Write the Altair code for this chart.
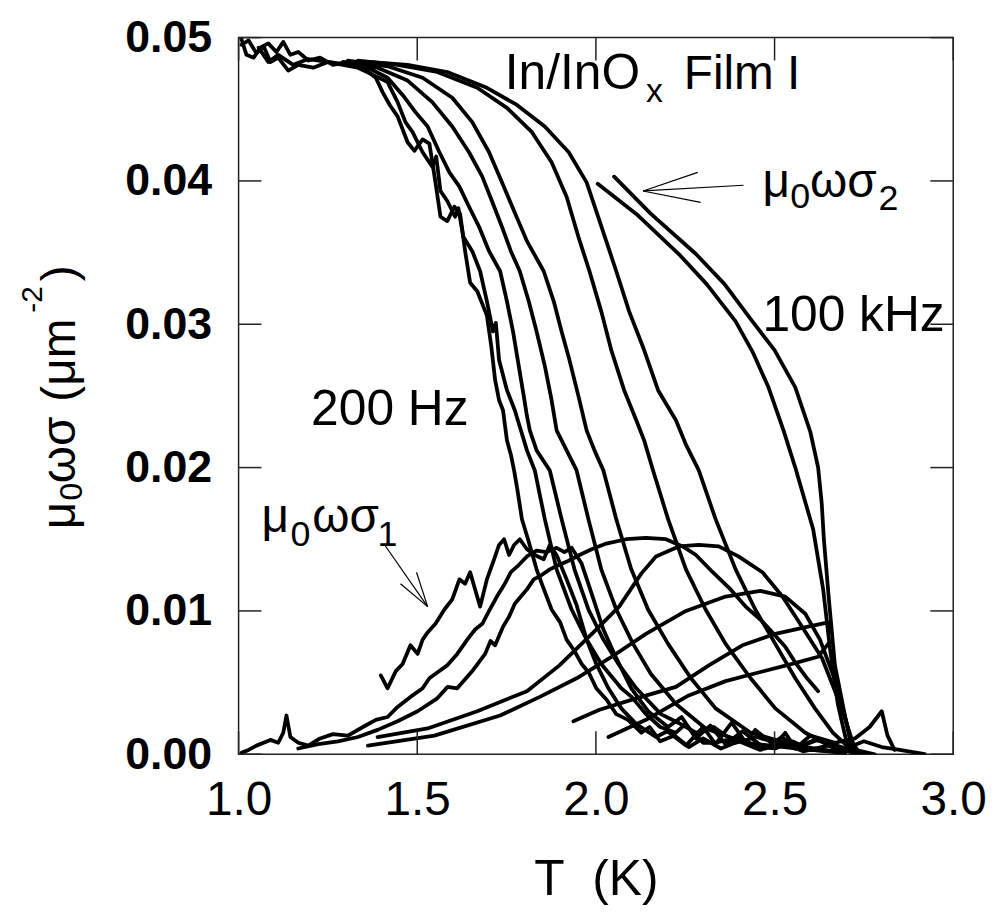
import altair as alt
import pandas as pd

# ---------------- data: (T [K], mu0*omega*sigma [um^-2]) ----------------
# sigma2 (reactive part), from 200 Hz (left, noisy) to 100 kHz (right)
s2_200Hz = [(1.008,0.0499),(1.022,0.0488),(1.042,0.0486),(1.061,0.0493),(1.083,0.0496),(1.106,0.0490),
            (1.125,0.0497),(1.145,0.0488),(1.167,0.0490),(1.195,0.0484),(1.228,0.0486),(1.264,0.0481),
            (1.306,0.0483),(1.348,0.0479),(1.384,0.0472),(1.403,0.0462),(1.423,0.0453),(1.445,0.0445),
            (1.473,0.0427),(1.492,0.0421),(1.515,0.0429),(1.534,0.0426),(1.551,0.0399),(1.565,0.0375),
            (1.584,0.0372),(1.604,0.0382),(1.620,0.0377),(1.634,0.0351),(1.648,0.0329),(1.668,0.0323),
            (1.684,0.0313),(1.695,0.0306),(1.707,0.0285),(1.718,0.0261),(1.729,0.0247),(1.740,0.0240),
            (1.751,0.0219),(1.762,0.0209),(1.771,0.0198),(1.780,0.0185),(1.793,0.0164),(1.810,0.0150),
            (1.834,0.0129),(1.850,0.0118),(1.876,0.0101),(1.900,0.0092),(1.918,0.0080),(1.940,0.0072),
            (1.960,0.0063),(1.980,0.0057),(2.001,0.0046),(2.030,0.0038),(2.057,0.0028),(2.090,0.0024),
            (2.127,0.0015),(2.150,0.0019),(2.180,0.0009),(2.220,0.0013),(2.260,0.0005),(2.300,0.0011),
            (2.350,0.0004),(2.400,0.0009),(2.460,0.0003),(2.520,0.0008),(2.580,0.0002),(2.650,0.0006),
            (2.720,0.0001)]
s2_500Hz = [(1.008,0.0495),(1.028,0.0498),(1.050,0.0489),(1.070,0.0494),(1.089,0.0483),(1.111,0.0486),
            (1.139,0.0477),(1.167,0.0481),(1.209,0.0479),(1.250,0.0483),(1.292,0.0481),(1.334,0.0479),
            (1.376,0.0474),(1.417,0.0469),(1.445,0.0455),(1.467,0.0441),(1.487,0.0434),(1.515,0.0420),
            (1.542,0.0410),(1.553,0.0417),(1.565,0.0393),(1.584,0.0386),(1.606,0.0375),(1.615,0.0381),
            (1.629,0.0361),(1.654,0.0351),(1.676,0.0337),(1.695,0.0316),(1.712,0.0295),(1.720,0.0301),
            (1.729,0.0275),(1.751,0.0254),(1.773,0.0240),(1.790,0.0226),(1.807,0.0212),(1.829,0.0198),
            (1.857,0.0164),(1.890,0.0129),(1.932,0.0101),(1.974,0.0080),(2.015,0.0063),(2.071,0.0046),
            (2.100,0.0040),(2.140,0.0028),(2.180,0.0019),(2.224,0.0015),(2.250,0.0021),(2.300,0.0008),
            (2.335,0.0008),(2.400,0.0012),(2.450,0.0005),(2.502,0.0004),(2.550,0.0009),(2.600,0.0003),
            (2.669,0.0002)]
s2_1kHz = [(1.056,0.0493),(1.083,0.0483),(1.111,0.0488),(1.153,0.0481),(1.195,0.0485),(1.250,0.0483),
           (1.306,0.0481),(1.362,0.0479),(1.417,0.0472),(1.459,0.0460),(1.495,0.0448),(1.529,0.0438),
           (1.562,0.0420),(1.590,0.0406),(1.618,0.0396),(1.645,0.0382),(1.673,0.0368),(1.701,0.0351),
           (1.732,0.0337),(1.751,0.0316),(1.768,0.0295),(1.784,0.0271),(1.798,0.0250),(1.807,0.0236),
           (1.815,0.0226),(1.834,0.0212),(1.871,0.0198),(1.904,0.0164),(1.940,0.0129),(1.979,0.0101),
           (2.021,0.0080),(2.063,0.0063),(2.113,0.0046),(2.182,0.0028),(2.230,0.0022),(2.280,0.0015),
           (2.330,0.0019),(2.391,0.0008),(2.450,0.0012),(2.558,0.0004),(2.620,0.0010),(2.697,0.0002)]
s2_2kHz = [(1.292,0.0483),(1.389,0.0479),(1.473,0.0470),(1.542,0.0455),(1.598,0.0438),(1.645,0.0420),
           (1.682,0.0403),(1.709,0.0386),(1.737,0.0368),(1.762,0.0351),(1.787,0.0337),(1.812,0.0316),
           (1.834,0.0295),(1.857,0.0271),(1.876,0.0247),(1.890,0.0226),(1.918,0.0212),(1.946,0.0198),
           (1.979,0.0164),(2.015,0.0129),(2.057,0.0101),(2.104,0.0077),(2.154,0.0056),(2.224,0.0035),
           (2.307,0.0018),(2.419,0.0008),(2.558,0.0004),(2.697,0.0001)]
s2_5kHz = [(1.306,0.0484),(1.417,0.0480),(1.515,0.0472),(1.598,0.0458),(1.654,0.0441),(1.701,0.0420),
           (1.737,0.0399),(1.771,0.0379),(1.807,0.0358),(1.854,0.0337),(1.882,0.0316),(1.904,0.0295),
           (1.926,0.0275),(1.951,0.0250),(1.974,0.0226),(1.996,0.0212),(2.021,0.0198),(2.057,0.0164),
           (2.099,0.0129),(2.146,0.0101),(2.202,0.0077),(2.266,0.0053),(2.335,0.0032),(2.433,0.0015),
           (2.558,0.0006),(2.697,0.0001)]
s2_10kHz = [(1.334,0.0484),(1.445,0.0481),(1.556,0.0476),(1.668,0.0465),(1.751,0.0451),(1.821,0.0434),
            (1.876,0.0413),(1.918,0.0389),(1.951,0.0361),(1.982,0.0337),(2.015,0.0309),(2.043,0.0282),
            (2.079,0.0254),(2.113,0.0233),(2.135,0.0219),(2.160,0.0198),(2.202,0.0164),(2.252,0.0129),
            (2.307,0.0101),(2.363,0.0077),(2.433,0.0053),(2.502,0.0032),(2.586,0.0015),(2.669,0.0004),
            (2.752,0.0000)]
s2_20kHz = [(1.362,0.0483),(1.473,0.0481),(1.584,0.0476),(1.695,0.0465),(1.779,0.0453),(1.857,0.0438),
            (1.924,0.0420),(1.974,0.0399),(2.001,0.0379),(2.029,0.0358),(2.057,0.0337),(2.093,0.0309),
            (2.135,0.0282),(2.174,0.0254),(2.224,0.0233),(2.252,0.0216),(2.288,0.0198),(2.335,0.0164),
            (2.391,0.0129),(2.446,0.0101),(2.502,0.0077),(2.558,0.0053),(2.613,0.0032),(2.663,0.0015),
            (2.711,0.0004),(2.780,0.0000)]
s2_50kHz = [(2.005,0.0398),(2.113,0.0377),(2.232,0.0349),(2.310,0.0328),(2.391,0.0302),(2.440,0.0280),
            (2.483,0.0256),(2.525,0.0226),(2.558,0.0200),(2.608,0.0157),(2.636,0.0115),(2.655,0.0074),
            (2.677,0.0035),(2.702,0.0008),(2.725,0.0000)]
s2_100kHz = [(2.051,0.0403),(2.154,0.0377),(2.280,0.0349),(2.360,0.0328),(2.438,0.0302),(2.500,0.0282),
             (2.558,0.0256),(2.600,0.0225),(2.622,0.0200),(2.632,0.0175),(2.638,0.0150),(2.652,0.0108),
             (2.669,0.0062),(2.697,0.0027),(2.716,0.0004)]

# sigma1 (dissipative part)
s1_200Hz = [(1.398,0.0055),(1.417,0.0046),(1.440,0.0058),(1.459,0.0063),(1.481,0.0076),(1.501,0.0070),
            (1.515,0.0080),(1.529,0.0085),(1.551,0.0091),(1.576,0.0101),(1.598,0.0108),(1.618,0.0122),
            (1.634,0.0119),(1.648,0.0127),(1.662,0.0115),(1.676,0.0103),(1.695,0.0122),(1.715,0.0136),
            (1.729,0.0146),(1.743,0.0150),(1.757,0.0139),(1.771,0.0146),(1.787,0.0150),(1.807,0.0143),
            (1.829,0.0139),(1.854,0.0136),(1.871,0.0146),(1.890,0.0139),(1.918,0.0122),(1.946,0.0104),
            (1.974,0.0080),(2.001,0.0063),(2.035,0.0046),(2.071,0.0032),(2.113,0.0021),(2.168,0.0012),
            (2.200,0.0016),(2.252,0.0006),(2.300,0.0019),(2.335,0.0007),(2.380,0.0022),(2.420,0.0008),
            (2.446,0.0017),(2.500,0.0006),(2.530,0.0015),(2.558,0.0004),(2.600,0.0013),(2.669,0.0008),
            (2.725,0.0011),(2.766,0.0019),(2.800,0.0030),(2.816,0.0013),(2.836,0.0003)]
s1_500Hz = [(1.008,0.0001),(1.028,0.0003),(1.050,0.0006),(1.070,0.0008),(1.089,0.0010),(1.111,0.0008),
            (1.125,0.0015),(1.134,0.0027),(1.145,0.0012),(1.167,0.0008),(1.195,0.0006),(1.228,0.0011),
            (1.264,0.0014),(1.306,0.0013),(1.348,0.0019),(1.384,0.0024),(1.417,0.0026),(1.445,0.0033),
            (1.481,0.0040),(1.515,0.0046),(1.534,0.0053),(1.556,0.0057),(1.584,0.0062),(1.612,0.0070),
            (1.640,0.0080),(1.662,0.0087),(1.682,0.0091),(1.701,0.0100),(1.723,0.0110),(1.743,0.0118),
            (1.762,0.0127),(1.784,0.0132),(1.807,0.0138),(1.834,0.0142),(1.862,0.0141),(1.890,0.0144),
            (1.912,0.0141),(1.932,0.0144),(1.960,0.0133),(1.988,0.0112),(2.021,0.0087),(2.057,0.0067),
            (2.099,0.0046),(2.146,0.0030),(2.202,0.0019),(2.240,0.0026),(2.280,0.0011),(2.320,0.0020),
            (2.363,0.0007),(2.410,0.0016),(2.474,0.0004),(2.520,0.0012),(2.560,0.0005),(2.613,0.0010),
            (2.650,0.0008),(2.700,0.0004),(2.750,0.0009),(2.800,0.0005),(2.850,0.0003),(2.900,0.0001),
            (2.920,0.0000)]
s1_1kHz = [(1.167,0.0004),(1.223,0.0007),(1.278,0.0009),(1.334,0.0012),(1.389,0.0017),(1.445,0.0023),
           (1.501,0.0030),(1.556,0.0039),(1.585,0.0047),(1.612,0.0046),(1.654,0.0058),(1.690,0.0070),
           (1.705,0.0079),(1.718,0.0076),(1.740,0.0089),(1.757,0.0096),(1.773,0.0105),(1.790,0.0110),
           (1.807,0.0115),(1.826,0.0122),(1.848,0.0125),(1.871,0.0129),(1.896,0.0132),(1.924,0.0135),
           (1.954,0.0139),(1.988,0.0143),(2.029,0.0147),(2.085,0.0150),(2.140,0.0151),(2.196,0.0150),
           (2.243,0.0145),(2.280,0.0139),(2.327,0.0127),(2.377,0.0115),(2.419,0.0103),(2.460,0.0094),
           (2.494,0.0085),(2.530,0.0075),(2.558,0.0064),(2.591,0.0053),(2.622,0.0044)]
s1_2kHz = [(1.362,0.0006),(1.548,0.0013),(1.732,0.0027),(1.843,0.0040),(1.946,0.0053),(2.038,0.0067),
           (2.140,0.0084),(2.252,0.0100),(2.363,0.0110),(2.460,0.0114),(2.530,0.0110),(2.586,0.0098),
           (2.627,0.0080),(2.663,0.0056),(2.691,0.0032),(2.713,0.0011),(2.730,0.0000)]
s1_5kHz = [(1.389,0.0012),(1.529,0.0018),(1.668,0.0030),(1.807,0.0044),(1.898,0.0062),(1.993,0.0085),
           (2.065,0.0103),(2.127,0.0126),(2.168,0.0138),(2.232,0.0145),(2.288,0.0146),(2.344,0.0145),
           (2.399,0.0138),(2.466,0.0127),(2.522,0.0110),(2.577,0.0089),(2.633,0.0067),(2.669,0.0044),
           (2.697,0.0025),(2.719,0.0008),(2.739,0.0000)]
s1_50kHz = [(2.035,0.0012),(2.140,0.0024),(2.260,0.0041),(2.363,0.0051),(2.455,0.0057),(2.549,0.0063),
            (2.622,0.0068),(2.650,0.0077)]
s1_100kHz = [(1.937,0.0023),(2.010,0.0031),(2.113,0.0039),(2.224,0.0047),(2.316,0.0062),(2.410,0.0076),
             (2.502,0.0084),(2.594,0.0089),(2.650,0.0092),(2.656,0.0085)]

series = {
    "s2_200Hz": s2_200Hz, "s2_500Hz": s2_500Hz, "s2_1kHz": s2_1kHz, "s2_2kHz": s2_2kHz,
    "s2_5kHz": s2_5kHz, "s2_10kHz": s2_10kHz, "s2_20kHz": s2_20kHz, "s2_50kHz": s2_50kHz,
    "s2_100kHz": s2_100kHz,
    "s1_200Hz": s1_200Hz, "s1_500Hz": s1_500Hz, "s1_1kHz": s1_1kHz, "s1_2kHz": s1_2kHz,
    "s1_5kHz": s1_5kHz, "s1_50kHz": s1_50kHz, "s1_100kHz": s1_100kHz,
}

x_ticks = [1.0, 1.5, 2.0, 2.5, 3.0]
y_ticks = [0.00, 0.01, 0.02, 0.03, 0.04, 0.05]

# annotation texts inside the plot (anchor: left, alphabetic baseline)
ann_text = ["In/InO", "x", "Film I", "200 Hz", "100 kHz",
            "μ", "0", "ωσ", "2",
            "μ", "0", "ωσ", "1"]
ann_T    = [1.745, 2.140, 2.246, 1.203, 2.466,
            2.466, 2.544, 2.599, 2.791,
            1.064, 1.145, 1.206, 1.389]
ann_v    = [0.0464, 0.0455, 0.0464, 0.0230, 0.0295,
            0.0389, 0.0381, 0.0389, 0.0380,
            0.0155, 0.0145, 0.0155, 0.0145]
ann_size = [50, 34, 48, 50, 50,
            48, 36, 48, 36,
            48, 36, 48, 36]

# y-axis title pieces (rotated), positioned along the y axis by value
ytitle_text = ["μ", "0", "ωσ", "(μm", "-2", ")"]
ytitle_v    = [0.0157, 0.0177, 0.0189, 0.0246, 0.0308, 0.0330]
ytitle_dx   = [-165, -158, -165, -165, -198, -165]
ytitle_size = [48, 32, 48, 48, 30, 48]

# arrows (line segments)
arr_T  = [2.413, 2.132, 2.132, 1.409, 1.453, 1.498]
arr_v  = [0.0397, 0.0393, 0.0393, 0.0146, 0.0119, 0.0127]
arr_T2 = [2.132, 2.285, 2.293, 1.529, 1.529, 1.529]
arr_v2 = [0.0393, 0.0406, 0.0385, 0.0103, 0.0103, 0.0103]

# ---------------- build tables ----------------
rows = []
for name, pts in series.items():
    for i, (t, v) in enumerate(pts):
        rows.append({"curve": name, "i": i, "T": t, "v": v})
df = pd.DataFrame(rows)

W, H, TICK = 719, 721, 23
FONT = "Liberation Sans, Arial, sans-serif"

xscale = alt.Scale(domain=[1, 3], nice=False, zero=False)
yscale = alt.Scale(domain=[0, 0.05], nice=False, zero=False)

lines = alt.Chart(df).mark_line(color="black", strokeWidth=3.8, strokeJoin="round",
                                strokeCap="round", clip=True).encode(
    x=alt.X("T:Q", scale=xscale,
            axis=alt.Axis(values=x_ticks, format=".1f", ticks=False, domain=False, grid=False,
                          labelFontSize=48, labelFont=FONT, labelColor="black", labelPadding=23,
                          labelFlush=False, labelOverlap=False,
                          title="T\u00a0\u00a0(K)", titleFontSize=50, titleFont=FONT,
                          titleFontWeight="normal", titleColor="black", titlePadding=30)),
    y=alt.Y("v:Q", scale=yscale,
            axis=alt.Axis(values=y_ticks, format=".2f", ticks=False, domain=False, grid=False,
                          labelFontSize=45, labelFont=FONT, labelFontWeight="bold",
                          labelColor="black", labelPadding=27, labelFlush=False, labelOverlap=False,
                          title=None)),
    detail="curve:N",
    order="i:Q",
)

xt = pd.DataFrame({"T": x_ticks})
yt = pd.DataFrame({"v": y_ticks})
tick_style = dict(color="#222222", strokeWidth=1.5)
t_bottom = alt.Chart(xt).mark_rule(**tick_style).encode(x="T:Q", y=alt.value(H), y2=alt.value(H - TICK))
t_top = alt.Chart(xt).mark_rule(**tick_style).encode(x="T:Q", y=alt.value(0), y2=alt.value(TICK))
t_left = alt.Chart(yt).mark_rule(**tick_style).encode(y="v:Q", x=alt.value(0), x2=alt.value(TICK))
t_right = alt.Chart(yt).mark_rule(**tick_style).encode(y="v:Q", x=alt.value(W), x2=alt.value(W - TICK))

ann_df = pd.DataFrame({"T": ann_T, "v": ann_v, "text": ann_text, "fs": ann_size})
texts = alt.Chart(ann_df).mark_text(align="left", baseline="alphabetic", font=FONT,
                                    color="black").encode(
    x="T:Q", y="v:Q", text="text:N", size=alt.Size("fs:Q", scale=None))

yt_df = pd.DataFrame({"v": ytitle_v, "text": ytitle_text, "fs": ytitle_size, "dx": ytitle_dx})
ytitle = alt.Chart(yt_df).mark_text(align="left", baseline="alphabetic", font=FONT,
                                    color="black", angle=270).encode(
    x=alt.X("dx:Q", scale=None), y="v:Q", text="text:N", size=alt.Size("fs:Q", scale=None))

arr_df = pd.DataFrame({"T": arr_T, "v": arr_v, "T2": arr_T2, "v2": arr_v2})
arrows = alt.Chart(arr_df).mark_rule(color="black", strokeWidth=1.2).encode(
    x="T:Q", y="v:Q", x2="T2:Q", y2="v2:Q")

chart = alt.layer(lines, t_bottom, t_top, t_left, t_right, arrows, texts, ytitle).properties(
    width=W, height=H,
    autosize=alt.AutoSizeParams(type="none"),
    padding={"left": 232, "top": 27, "right": 36, "bottom": 164},
    background="white",
).configure_view(stroke="#222222", strokeWidth=1.5)

chart.save("out.html", embed_options={"renderer": "svg", "actions": False})
